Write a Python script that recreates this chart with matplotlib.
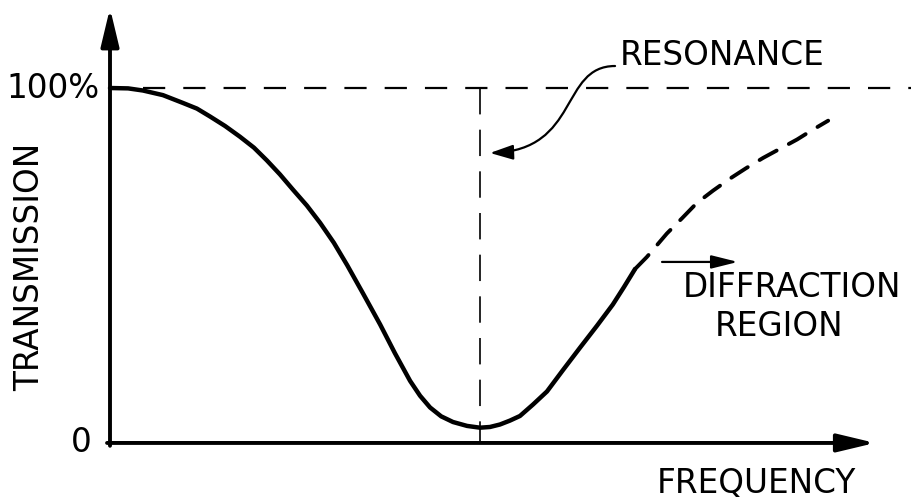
"""Transmission versus frequency sketch: resonance dip and diffraction region."""

import matplotlib

matplotlib.use("Agg")

import matplotlib.pyplot as plt
from matplotlib.patches import FancyArrowPatch
from matplotlib.path import Path

# frequency in units of the resonance frequency, transmission in percent
freq_solid = [0.0, 0.049, 0.089, 0.143, 0.197, 0.235, 0.270, 0.311, 0.351,
              0.389, 0.424, 0.459, 0.495, 0.532, 0.568, 0.605, 0.641, 0.684,
              0.730, 0.770, 0.811, 0.838, 0.865, 0.895, 0.927, 0.965, 1.0,
              1.027, 1.054, 1.081, 1.108, 1.143, 1.181, 1.224, 1.270, 1.316,
              1.359, 1.389, 1.419]
trans_solid = [100.0, 99.9, 99.3, 98.0, 95.8, 94.2, 92.0, 89.3, 86.3,
               83.2, 79.6, 75.7, 71.3, 66.9, 62.0, 56.4, 50.1, 42.1,
               33.4, 25.3, 17.5, 13.3, 10.0, 7.5, 5.9, 4.8, 4.3,
               4.5, 5.2, 6.3, 7.6, 10.8, 14.5, 20.5, 26.8, 33.0,
               39.0, 43.9, 49.0]

# beyond the diffraction onset the curve is only sketched
freq_diffraction = [1.419, 1.451, 1.505, 1.546, 1.586, 1.630, 1.676, 1.719,
                    1.765, 1.811, 1.857, 1.897, 1.941]
trans_diffraction = [49.0, 52.4, 59.0, 63.3, 67.6, 71.1, 74.5, 77.4,
                     80.3, 82.9, 85.5, 88.1, 90.8]

resonance_freq = 1.0
full_transmission = 100.0
y_tick_labels = ["0", "100%"]

plt.rcParams["font.family"] = ["DejaVu Sans"]
plt.rcParams["lines.scale_dashes"] = False

fig = plt.figure(figsize=(9.12, 5.04), dpi=100)
ax = fig.add_axes([0, 0, 1, 1])
ax.set_xlim(-0.2973, 2.1676)
ax.set_ylim(-17.2, 124.8)
ax.axis("off")

ink = "black"
axis_arrow = dict(arrowstyle="-|>,head_length=2.3,head_width=0.55",
                  color=ink, lw=2.8, shrinkA=0, shrinkB=0, mutation_scale=10)

# axes drawn as arrows
ax.annotate("", xy=(0.0, 122.5), xytext=(0.0, -0.8), arrowprops=axis_arrow)
ax.annotate("", xy=(2.068, 0.0), xytext=(-0.008, 0.0), arrowprops=axis_arrow)

# 100 % reference and resonance marker
ax.plot([0.089, 2.17], [full_transmission, full_transmission],
        color=ink, lw=1.6, dashes=(16, 13))
ax.plot([resonance_freq, resonance_freq], [full_transmission, 0.0],
        color=ink, lw=1.2, dashes=(19, 11))

# transmission curve
ax.plot(freq_solid, trans_solid, color=ink, lw=3.2,
        solid_joinstyle="round", solid_capstyle="round")
ax.plot(freq_diffraction, trans_diffraction, color=ink, lw=2.8,
        dashes=(14, 10), dash_capstyle="round", dash_joinstyle="round")

text_kw = dict(fontsize=23.5, color=ink)
ax.text(-0.027, full_transmission, y_tick_labels[1], ha="right", va="center",
        **text_kw)
ax.text(-0.078, 0.0, y_tick_labels[0], ha="center", va="center", **text_kw)
ax.text(-0.216, 49.6, "TRANSMISSION", rotation=90, ha="center", va="center",
        **text_kw)
ax.text(1.746, -11.3, "FREQUENCY", ha="center", va="center", **text_kw)
ax.text(1.378, 109.3, "RESONANCE", ha="left", va="center", **text_kw)
ax.text(1.549, 43.7, "DIFFRACTION", ha="left", va="center", **text_kw)
ax.text(1.635, 32.7, "REGION", ha="left", va="center", **text_kw)

# curved pointer from the RESONANCE label to the dashed marker
pointer = Path(
    [(1.365, 106.2), (1.216, 106.2), (1.270, 82.5), (1.027, 81.7)],
    [Path.MOVETO, Path.CURVE4, Path.CURVE4, Path.CURVE4],
)
ax.add_patch(FancyArrowPatch(path=pointer,
                             arrowstyle="-|>,head_length=1.4,head_width=0.45",
                             mutation_scale=10, color=ink, lw=1.6))

# pointer into the diffraction region
ax.annotate("", xy=(1.697, 51.0), xytext=(1.492, 51.0),
            arrowprops=dict(arrowstyle="-|>,head_length=1.6,head_width=0.4",
                            color=ink, lw=1.6, shrinkA=0, shrinkB=0,
                            mutation_scale=10))

fig.savefig("out.png", dpi=100)
plt.close(fig)
